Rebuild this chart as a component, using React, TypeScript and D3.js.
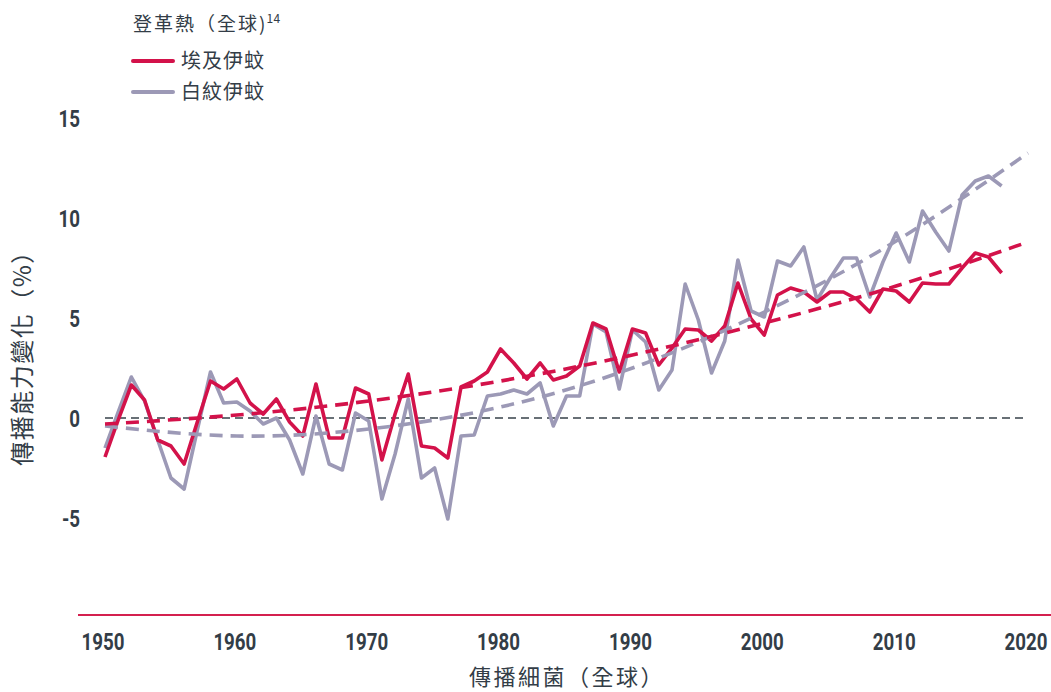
import { useEffect, useRef } from 'react';
import { select, scaleLinear, line, curveLinear, curveNatural, range } from 'd3';

const YEAR_START = 1950;
const RED = '#d3124a';
const GRAY = '#9c99b6';
const INK = '#333d47';

// 埃及伊蚊 (1950-2018)
const aegypti = [
  -1.95, -0.1, 1.65, 0.9, -1.1, -1.4, -2.3, -0.2, 1.85, 1.45,
  1.95, 0.75, 0.2, 0.95, -0.2, -0.9, 1.7, -1.0, -1.0, 1.5,
  1.2, -2.1, 0.2, 2.2, -1.4, -1.5, -2.0, 1.55, 1.85, 2.3,
  3.45, 2.75, 1.95, 2.75, 1.9, 2.1, 2.6, 4.75, 4.45, 2.3,
  4.45, 4.25, 2.65, 3.5, 4.45, 4.4, 3.85, 4.6, 6.75, 4.95,
  4.15, 6.15, 6.5, 6.3, 5.8, 6.3, 6.3, 5.95, 5.3, 6.45,
  6.35, 5.8, 6.75, 6.7, 6.7, 7.5, 8.25, 8.05, 7.25,
];

// 白紋伊蚊 (1950-2018)
const albopictus = [
  -1.5, 0.3, 2.05, 0.85, -1.1, -3.0, -3.55, -0.6, 2.3, 0.75,
  0.8, 0.35, -0.3, 0.0, -1.1, -2.8, 0.1, -2.3, -2.6, 0.25,
  -0.15, -4.05, -1.8, 0.95, -3.0, -2.5, -5.05, -0.9, -0.85, 1.1,
  1.2, 1.4, 1.2, 1.75, -0.4, 1.1, 1.1, 4.7, 4.3, 1.45,
  4.4, 3.8, 1.4, 2.4, 6.7, 4.9, 2.25, 3.85, 7.9, 5.35,
  5.05, 7.85, 7.6, 8.55, 5.9, 7.0, 8.0, 8.0, 6.05, 7.8,
  9.25, 7.8, 10.35, 9.3, 8.35, 11.15, 11.85, 12.1, 11.6,
];

// trend lines, read at each decade
const trendYears = [1950, 1960, 1970, 1980, 1990, 2000, 2010, 2020];
const aegyptiTrend = [-0.3, 0.15, 0.85, 1.85, 3.15, 4.75, 6.6, 8.8];
const albopictusTrend = [-0.4, -0.9, -0.55, 0.55, 2.5, 5.3, 8.85, 13.25];

const xTicks = [1950, 1960, 1970, 1980, 1990, 2000, 2010, 2020];
const yTicks = [15, 10, 5, 0, -5];

const NUM_FONT = 'Roboto, "DejaVu Sans", sans-serif';
const CJK_FONT = '"Noto Sans CJK TC", "Noto Sans CJK SC", sans-serif';
const SQUEEZE = 0.78; // tick labels are a condensed face

export default function App() {
  const svgRef = useRef<SVGSVGElement>(null);

  useEffect(() => {
    const svg = select(svgRef.current);
    svg.selectAll('*').remove();

    const x = scaleLinear().domain([1950, 2020]).range([105, 1028]);
    const y = scaleLinear().domain([0, 15]).range([418, 118]);

    const years = range(YEAR_START, YEAR_START + aegypti.length);

    // y tick labels
    svg.append('g')
      .selectAll('text')
      .data(yTicks)
      .enter().append('text')
      .attr('transform', d => `translate(80,${y(d)}) scale(${SQUEEZE},1)`)
      .attr('dy', '0.36em')
      .attr('text-anchor', 'end')
      .attr('font-family', NUM_FONT)
      .attr('font-weight', 'bold')
      .attr('font-size', 24)
      .attr('fill', INK)
      .text(d => String(d));

    // zero reference line
    svg.append('line')
      .attr('x1', x(1950)).attr('x2', x(2020))
      .attr('y1', y(0)).attr('y2', y(0))
      .attr('stroke', '#37424a')
      .attr('stroke-width', 1.5)
      .attr('stroke-dasharray', '8,5');

    const seriesLine = line<number>()
      .x((d, i) => x(years[i]))
      .y(d => y(d))
      .curve(curveLinear);

    const trendLine = line<number>()
      .x((d, i) => x(trendYears[i]))
      .y(d => y(d))
      .curve(curveNatural);

    svg.append('path')
      .attr('d', seriesLine(albopictus))
      .attr('fill', 'none')
      .attr('stroke', GRAY)
      .attr('stroke-width', 3.6)
      .attr('stroke-linejoin', 'round');

    svg.append('path')
      .attr('d', seriesLine(aegypti))
      .attr('fill', 'none')
      .attr('stroke', RED)
      .attr('stroke-width', 3.6)
      .attr('stroke-linejoin', 'round');

    svg.append('path')
      .attr('d', trendLine(albopictusTrend))
      .attr('fill', 'none')
      .attr('stroke', GRAY)
      .attr('stroke-width', 3.6)
      .attr('stroke-dasharray', '13,8');

    svg.append('path')
      .attr('d', trendLine(aegyptiTrend))
      .attr('fill', 'none')
      .attr('stroke', RED)
      .attr('stroke-width', 3.6)
      .attr('stroke-dasharray', '13,8');

    // bottom axis line
    svg.append('line')
      .attr('x1', 78).attr('x2', 1051)
      .attr('y1', 615).attr('y2', 615)
      .attr('stroke', '#d4204f')
      .attr('stroke-width', 2);

    svg.append('g')
      .selectAll('text')
      .data(xTicks)
      .enter().append('text')
      .attr('transform', d => `translate(${x(d) - 2},641) scale(${SQUEEZE},1)`)
      .attr('dy', '0.36em')
      .attr('text-anchor', 'middle')
      .attr('font-family', NUM_FONT)
      .attr('font-weight', 'bold')
      .attr('font-size', 24)
      .attr('fill', INK)
      .text(d => String(d));

    // axis titles
    svg.append('text')
      .attr('x', 567)
      .attr('y', 677)
      .attr('dy', '0.36em')
      .attr('text-anchor', 'middle')
      .attr('font-family', CJK_FONT)
      .attr('font-size', 22)
      .attr('letter-spacing', 2.5)
      .attr('fill', INK)
      .text('傳播細菌（全球）');

    svg.append('text')
      .attr('transform', 'translate(22,352) rotate(-90)')
      .attr('dy', '0.36em')
      .attr('text-anchor', 'middle')
      .attr('font-family', CJK_FONT)
      .attr('font-size', 24)
      .attr('letter-spacing', 1.5)
      .attr('fill', INK)
      .text('傳播能力變化（%）');

    // legend
    const legend = svg.append('g');
    const title = legend.append('text')
      .attr('x', 133)
      .attr('y', 31)
      .attr('font-family', CJK_FONT)
      .attr('font-size', 19)
      .attr('letter-spacing', 2)
      .attr('fill', INK);
    title.append('tspan').text('登革熱（全球)');
    title.append('tspan')
      .attr('font-size', 12)
      .attr('letter-spacing', 0.5)
      .attr('dy', -8)
      .attr('dx', -1)
      .text('14');

    const items = [
      { label: '埃及伊蚊', color: RED, cy: 61 },
      { label: '白紋伊蚊', color: GRAY, cy: 92 },
    ];
    items.forEach(it => {
      legend.append('line')
        .attr('x1', 133).attr('x2', 173)
        .attr('y1', it.cy).attr('y2', it.cy)
        .attr('stroke', it.color)
        .attr('stroke-width', 4)
        .attr('stroke-linecap', 'round');
      legend.append('text')
        .attr('x', 181)
        .attr('y', it.cy)
        .attr('dy', '0.36em')
        .attr('font-family', CJK_FONT)
        .attr('font-size', 20)
        .attr('letter-spacing', 1)
        .attr('fill', INK)
        .text(it.label);
    });
  }, []);

  return (
    <svg
      ref={svgRef}
      width={1051}
      height={692}
      style={{ position: 'absolute', left: 0, top: 0, background: '#fff' }}
    />
  );
}
